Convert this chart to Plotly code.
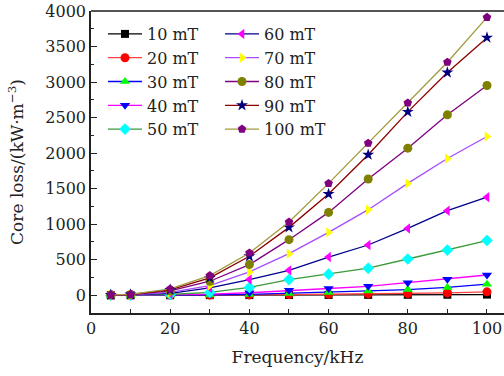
import plotly.graph_objects as go

freq = [5, 10, 20, 30, 40, 50, 60, 70, 80, 90, 100]
labels = ["10 mT", "20 mT", "30 mT", "40 mT", "50 mT",
          "60 mT", "70 mT", "80 mT", "90 mT", "100 mT"]
loss_10 = [0, 0, 0, 1, 2, 3, 4, 5, 6, 7, 9]
loss_20 = [0, 0, 1, 2, 5, 9, 14, 19, 25, 33, 48]
loss_30 = [0, 0, 2, 5, 12, 25, 40, 60, 80, 110, 155]
loss_40 = [0, 1, 5, 15, 35, 70, 95, 125, 175, 225, 285]
loss_50 = [1, 2, 10, 40, 110, 220, 297, 380, 510, 635, 770]
loss_60 = [2, 4, 25, 103, 220, 350, 538, 707, 940, 1190, 1380]
loss_70 = [3, 6, 40, 136, 328, 585, 885, 1204, 1574, 1925, 2234]
loss_80 = [4, 8, 60, 197, 431, 782, 1166, 1635, 2070, 2539, 2951]
loss_90 = [5, 10, 75, 244, 548, 955, 1424, 1977, 2581, 3134, 3625]
loss_100 = [6, 12, 89, 276, 595, 1030, 1574, 2140, 2707, 3279, 3911]
series = [loss_10, loss_20, loss_30, loss_40, loss_50,
          loss_60, loss_70, loss_80, loss_90, loss_100]

line_colors = ["#000000", "#ff4040", "#0000ff", "#ff00ff", "#3a9a3a",
               "#00008b", "#a64dff", "#800080", "#8b0000", "#a09a3c"]
marker_colors = ["#000000", "#ff0000", "#00ff00", "#0000ff", "#00ffff",
                 "#ff00ff", "#ffff00", "#808000", "#000080", "#800080"]
symbols = ["square", "circle", "triangle-up", "triangle-down", "diamond",
           "triangle-left", "triangle-right", "circle", "star", "pentagon"]
sizes = [8, 9, 9, 9, 9, 9, 9, 9, 9, 9]

FONT = "DejaVu Serif"
fig = go.Figure()
for i, (lab, ys) in enumerate(zip(labels, series)):
    fig.add_trace(go.Scatter(
        x=freq, y=ys, name=lab, mode="lines+markers",
        line=dict(color=line_colors[i], width=1.3),
        marker=dict(symbol=symbols[i], color=marker_colors[i], size=sizes[i],
                    line=dict(width=0)),
        legendgroup="g%d" % i,
        legend="legend" if i < 5 else "legend2",
    ))

W, H = 504, 376
L, R, T, B = 91, 0, 11, 63
pw, ph = W - L - R, H - T - B

def px(xp):
    return (xp - L) / pw

def py(yp):
    return 1 - (yp - T) / ph

leg_common = dict(font=dict(family=FONT, size=16, color="#222"),
                  bgcolor="rgba(0,0,0,0)", borderwidth=0,
                  xanchor="left", yanchor="top", tracegroupgap=0,
                  traceorder="grouped", itemwidth=34)
fig.update_layout(
    width=W, height=H,
    margin=dict(l=L, r=R, t=T, b=B),
    paper_bgcolor="white", plot_bgcolor="white",
    font=dict(family=FONT, size=16, color="#222"),
    showlegend=True,
    legend=dict(x=px(103), y=py(17), **leg_common),
    legend2=dict(x=px(220), y=py(17), **leg_common),
    xaxis=dict(range=[0, 104.3], showgrid=False, zeroline=False,
               showline=True, linecolor="#222", linewidth=1.5,
               ticks="inside", ticklen=4, tickcolor="#222",
               tickvals=[0, 20, 40, 60, 80, 100],
               minor=dict(ticks="inside", ticklen=4, dtick=10, tickcolor="#222"),
               tickfont=dict(family=FONT, size=16),
               title=dict(text="Frequency/kHz", font=dict(family=FONT, size=17),
                          standoff=14)),
    yaxis=dict(range=[-250, 4000], showgrid=False, zeroline=False,
               showline=True, linecolor="#222", linewidth=1.5,
               ticks="inside", ticklen=6, tickcolor="#222",
               tickvals=[0, 500, 1000, 1500, 2000, 2500, 3000, 3500, 4000],
               minor=dict(ticks="inside", ticklen=3, dtick=250, tickcolor="#222"),
               tickfont=dict(family=FONT, size=16),
               title=dict(text="Core loss/(kW·m<sup>−3</sup>)",
                          font=dict(family=FONT, size=17), standoff=17)),
    shapes=[dict(type="line", xref="paper", yref="paper", x0=0, x1=1, y0=1, y1=1,
                 line=dict(color="#555", width=2))],
)
fig.write_html("out.html")
